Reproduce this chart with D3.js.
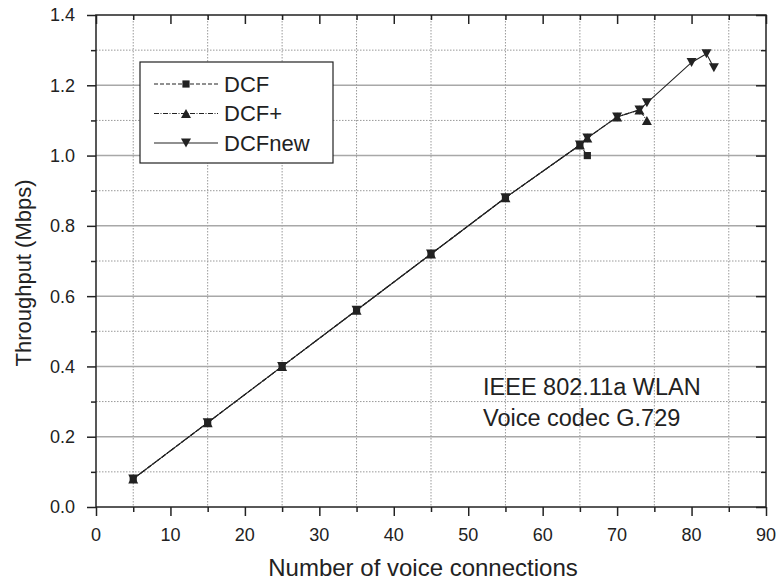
<!DOCTYPE html>
<html>
<head>
<meta charset="utf-8">
<script src="https://cdn.jsdelivr.net/npm/d3@7"></script>
<style>
    body { margin: 0; background: #fff; }
    text { font-family: "Liberation Sans", Arial, sans-serif; fill: #222; }
</style>
</head>
<body>
<svg id="chart" width="780" height="585"></svg>
<script>
// values
var dcfX = [5, 15, 25, 35, 45, 55, 65, 66];
var dcfY = [0.08, 0.24, 0.40, 0.56, 0.72, 0.88, 1.03, 1.00];

var dcfPlusX = [5, 15, 25, 35, 45, 55, 65, 66, 70, 73, 74];
var dcfPlusY = [0.08, 0.24, 0.40, 0.56, 0.72, 0.88, 1.03, 1.05, 1.11, 1.13, 1.10];

var dcfNewX = [5, 15, 25, 35, 45, 55, 65, 66, 70, 73, 74, 80, 82, 83];
var dcfNewY = [0.08, 0.24, 0.40, 0.56, 0.72, 0.88, 1.03, 1.05, 1.11, 1.13, 1.15, 1.265, 1.29, 1.25];

var xTicks = [0, 10, 20, 30, 40, 50, 60, 70, 80, 90];
var xMinor = [5, 15, 25, 35, 45, 55, 65, 75, 85];
var yTicks = [0, 0.2, 0.4, 0.6, 0.8, 1.0, 1.2, 1.4];
var yMinor = [0.1, 0.3, 0.5, 0.7, 0.9, 1.1, 1.3];

var seriesNames = ["DCF", "DCF+", "DCFnew"];
var annotation = ["IEEE 802.11a WLAN", "Voice codec G.729"];

function drawChart() {
    var pLeft = 96, pRight = 766, pTop = 15, pBottom = 507;

    var x = d3.scaleLinear().domain([0, 90]).range([pLeft, pRight]);
    var y = d3.scaleLinear().domain([0, 1.4]).range([pBottom, pTop]);

    var svg = d3.select("#chart");

    // grid
    var grid = svg.append("g");
    grid.selectAll(".hmin").data(yMinor).enter().append("line")
        .attr("x1", pLeft).attr("x2", pRight)
        .attr("y1", d => y(d)).attr("y2", d => y(d))
        .attr("stroke", "#999").attr("stroke-width", 1).attr("stroke-dasharray", "1.5,1.5");
    grid.selectAll(".vmin").data(xMinor).enter().append("line")
        .attr("x1", d => x(d)).attr("x2", d => x(d))
        .attr("y1", pTop).attr("y2", pBottom)
        .attr("stroke", "#999").attr("stroke-width", 1).attr("stroke-dasharray", "1.5,1.5");
    grid.selectAll(".hmaj").data(yTicks.slice(1, -1)).enter().append("line")
        .attr("x1", pLeft).attr("x2", pRight)
        .attr("y1", d => y(d)).attr("y2", d => y(d))
        .attr("stroke", "#a8a8a8").attr("stroke-width", 1.5);

    // axes: bottom/left outward ticks, top/right inward
    svg.append("g").attr("transform", "translate(0," + pBottom + ")")
        .call(d3.axisBottom(x).tickValues(xMinor).tickSize(5).tickFormat(""));
    svg.append("g").attr("transform", "translate(0," + pBottom + ")")
        .call(d3.axisBottom(x).tickValues(xTicks).tickSize(9).tickFormat(""));
    svg.append("g").attr("transform", "translate(" + pLeft + ",0)")
        .call(d3.axisLeft(y).tickValues(yMinor).tickSize(5).tickFormat(""));
    svg.append("g").attr("transform", "translate(" + pLeft + ",0)")
        .call(d3.axisLeft(y).tickValues(yTicks).tickSize(9).tickFormat(""));
    svg.append("g").attr("transform", "translate(0," + pTop + ")")
        .call(d3.axisBottom(x).tickValues(xMinor).tickSize(5).tickFormat(""));
    svg.append("g").attr("transform", "translate(0," + pTop + ")")
        .call(d3.axisBottom(x).tickValues(xTicks).tickSize(9).tickFormat(""));
    svg.append("g").attr("transform", "translate(" + pRight + ",0)")
        .call(d3.axisLeft(y).tickValues(yMinor).tickSize(5).tickFormat(""));
    svg.append("g").attr("transform", "translate(" + pRight + ",0)")
        .call(d3.axisLeft(y).tickValues(yTicks).tickSize(10).tickFormat(""));

    svg.selectAll(".domain").remove();
    svg.selectAll(".tick line").attr("stroke", "#222").attr("stroke-width", 1.5);

    svg.append("rect")
        .attr("x", pLeft).attr("y", pTop)
        .attr("width", pRight - pLeft).attr("height", pBottom - pTop)
        .attr("fill", "none").attr("stroke", "#222").attr("stroke-width", 1.5);

    // tick labels
    svg.selectAll(".xlab").data(xTicks).enter().append("text")
        .attr("x", d => x(d)).attr("y", 541)
        .attr("text-anchor", "middle").attr("font-size", "18px")
        .text(d => d);
    svg.selectAll(".ylab").data(yTicks).enter().append("text")
        .attr("x", 75).attr("y", d => y(d)).attr("dy", "0.36em")
        .attr("text-anchor", "end").attr("font-size", "18px")
        .text(d => d.toFixed(1));

    svg.append("text")
        .attr("x", 423).attr("y", 576)
        .attr("text-anchor", "middle").attr("font-size", "24px")
        .text("Number of voice connections");
    svg.append("text")
        .attr("transform", "translate(31,273) rotate(-90)")
        .attr("text-anchor", "middle").attr("font-size", "22px")
        .text("Throughput (Mbps)");

    // series
    function markerPath(kind) {
        if (kind === "square") return "M-3.6,-3.6H3.6V3.6H-3.6Z";
        if (kind === "up") return "M0,-4.5L5,4.5L-5,4.5Z";
        return "M0,4.5L5,-4.5L-5,-4.5Z";
    }

    var series = [
        { name: seriesNames[0], xs: dcfX, ys: dcfY, dash: "4,2", marker: "square" },
        { name: seriesNames[1], xs: dcfPlusX, ys: dcfPlusY, dash: "5,1.5,1,1.5", marker: "up" },
        { name: seriesNames[2], xs: dcfNewX, ys: dcfNewY, dash: null, marker: "down" }
    ];

    var line = d3.line().x(d => x(d[0])).y(d => y(d[1]));

    series.forEach(s => {
        var pts = s.xs.map((v, i) => [v, s.ys[i]]);
        svg.append("path")
            .datum(pts)
            .attr("d", line)
            .attr("fill", "none")
            .attr("stroke", "#222")
            .attr("stroke-width", 1.1)
            .attr("stroke-dasharray", s.dash);
        svg.append("g").selectAll("path").data(pts).enter().append("path")
            .attr("d", markerPath(s.marker))
            .attr("transform", d => "translate(" + x(d[0]) + "," + y(d[1]) + ")")
            .attr("fill", "#222");
    });

    // legend
    var legend = svg.append("g");
    legend.append("rect")
        .attr("x", 140).attr("y", 62).attr("width", 193).attr("height", 101)
        .attr("fill", "#fff").attr("stroke", "#222").attr("stroke-width", 1.2);
    series.forEach((s, i) => {
        var ly = 84 + i * 29.5;
        legend.append("line")
            .attr("x1", 154).attr("x2", 218).attr("y1", ly).attr("y2", ly)
            .attr("stroke", "#222").attr("stroke-width", 1.1)
            .attr("stroke-dasharray", s.dash);
        legend.append("path")
            .attr("d", markerPath(s.marker))
            .attr("transform", "translate(186," + ly + ")")
            .attr("fill", "#222");
        legend.append("text")
            .attr("x", 224).attr("y", ly).attr("dy", "0.36em")
            .attr("font-size", "22px")
            .text(s.name);
    });

    // annotation
    svg.selectAll(".note").data(annotation).enter().append("text")
        .attr("x", 483).attr("y", (d, i) => 395 + i * 31)
        .attr("font-size", "23.5px")
        .text(d => d);
}

drawChart();
</script>
</body>
</html>
